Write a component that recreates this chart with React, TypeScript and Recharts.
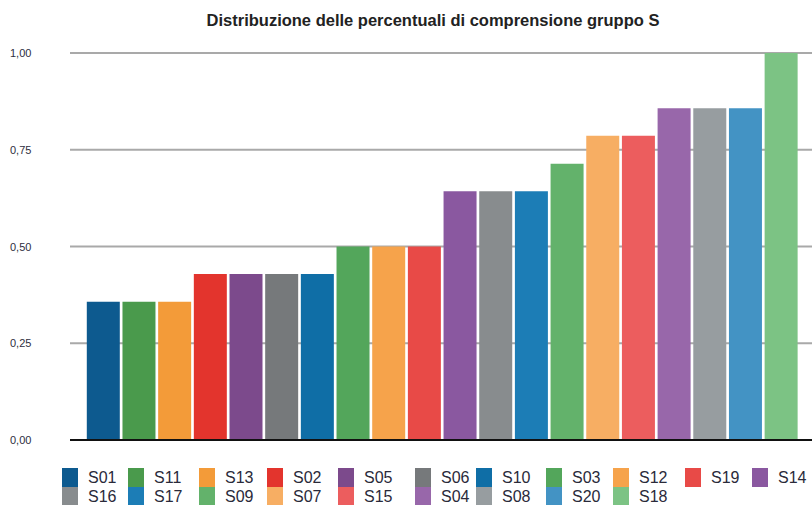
import { BarChart, Bar, XAxis, YAxis, CartesianGrid, Cell, Legend } from "recharts";

const students = [
  "S01", "S11", "S13", "S02", "S05", "S06", "S10", "S03", "S12", "S19",
  "S14", "S16", "S17", "S09", "S07", "S15", "S04", "S08", "S20", "S18",
];

const values = [
  0.357, 0.357, 0.357, 0.429, 0.429, 0.429, 0.429, 0.5, 0.5, 0.5,
  0.643, 0.643, 0.643, 0.714, 0.786, 0.786, 0.857, 0.857, 0.857, 1.0,
];

const colors = [
  "#0d5a8f", "#4a9a4c", "#f39b39", "#e3342d", "#7c4a8c", "#76797b", "#0f6ea6", "#53a65b", "#f6a34b", "#e84a47",
  "#8a58a0", "#888c8e", "#1c7db6", "#63b26b", "#f7ae63", "#ec5d5e", "#9867aa", "#979da0", "#4393c4", "#7cc384",
];

const yTicks = [0, 0.25, 0.5, 0.75, 1];

const data = students.map((s, i) => ({ name: s, value: values[i] }));

const fmt = (v: number) => v.toFixed(2).replace(".", ",");

const FONT = "'Liberation Sans', Arial, sans-serif";

function YTick(props: any) {
  const { y, payload } = props;
  return (
    <text x={10} y={y} dy={4} fontSize={11} fill="#2e2e3e" fontFamily={FONT}>
      {fmt(payload.value)}
    </text>
  );
}

// x position of each legend column (11 per row)
const legendCols = [62, 128, 199, 267, 338, 415, 476, 546, 613, 685, 752];

function LegendBox() {
  return (
    <div style={{ position: "relative", width: 812, height: 38 }}>
      {students.map((s, i) => {
        const row = Math.floor(i / 11);
        const col = i % 11;
        return (
          <div
            key={s}
            style={{
              position: "absolute",
              left: legendCols[col],
              top: row * 19,
              height: 19,
              display: "flex",
              alignItems: "center",
            }}
          >
            <div style={{ width: 16, height: 19, background: colors[i] }} />
            <span
              style={{
                marginLeft: 10,
                fontFamily: FONT,
                fontSize: 16,
                color: "#2a2a3a",
                lineHeight: "19px",
              }}
            >
              {s}
            </span>
          </div>
        );
      })}
    </div>
  );
}

export default function App() {
  return (
    <div style={{ position: "absolute", left: 0, top: 0, width: 812, height: 505, background: "#fff" }}>
      <div
        style={{
          position: "absolute",
          left: 0,
          top: 11,
          width: 866,
          textAlign: "center",
          fontFamily: FONT,
          fontWeight: "bold",
          fontSize: 16.5,
          color: "#222",
        }}
      >
        Distribuzione delle percentuali di comprensione gruppo S
      </div>
      <BarChart
        width={812}
        height={505}
        data={data}
        margin={{ top: 53, right: 0, bottom: 25, left: 0 }}
        barCategoryGap={1.3}
      >
        <CartesianGrid vertical={false} stroke="#a9a9a9" strokeWidth={2} />
        <XAxis
          dataKey="name"
          tick={false}
          tickLine={false}
          height={2}
          axisLine={{ stroke: "#111", strokeWidth: 2 }}
          padding={{ left: 15.5, right: 13 }}
        />
        <YAxis
          domain={[0, 1]}
          ticks={yTicks}
          width={70}
          axisLine={false}
          tickLine={false}
          tick={<YTick />}
        />
        <Legend
          verticalAlign="bottom"
          content={() => <LegendBox />}
          wrapperStyle={{ left: 0, top: 468, width: 812, height: 38 }}
        />
        <Bar dataKey="value" isAnimationActive={false}>
          {data.map((d, i) => (
            <Cell key={d.name} fill={colors[i]} />
          ))}
        </Bar>
      </BarChart>
    </div>
  );
}
